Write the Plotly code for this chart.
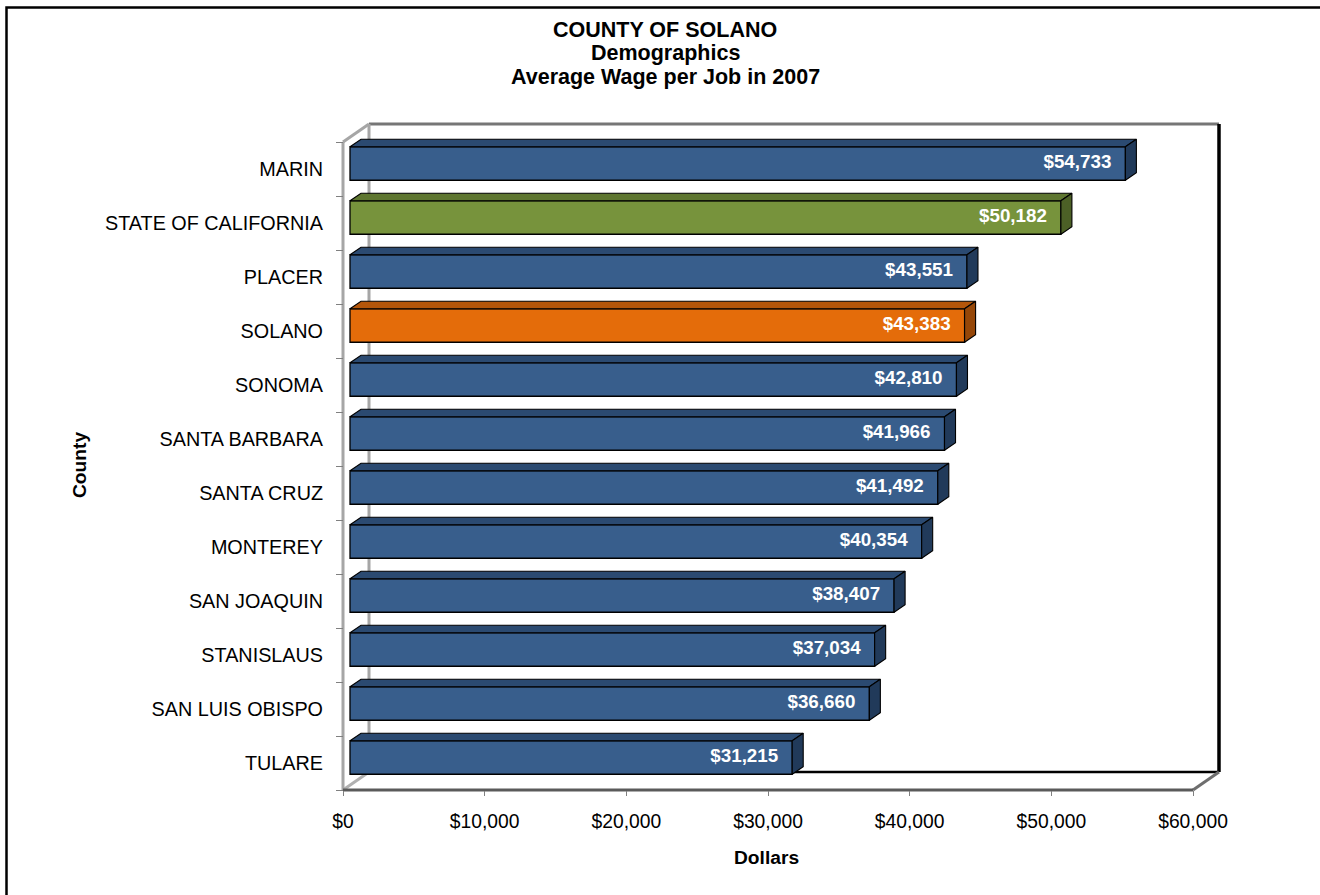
import plotly.graph_objects as go

# ---- data -------------------------------------------------------------
counties = ["MARIN", "STATE OF CALIFORNIA", "PLACER", "SOLANO", "SONOMA",
            "SANTA BARBARA", "SANTA CRUZ", "MONTEREY", "SAN JOAQUIN",
            "STANISLAUS", "SAN LUIS OBISPO", "TULARE"]
wages = [54733, 50182, 43551, 43383, 42810, 41966, 41492, 40354, 38407,
         37034, 36660, 31215]
x_ticks = [0, 10000, 20000, 30000, 40000, 50000, 60000]
x_tick_text = ["$0", "$10,000", "$20,000", "$30,000", "$40,000", "$50,000", "$60,000"]

# colour scheme: (front, top, side)
BLUE = ("#385E8C", "#2B4A71", "#213A5A")
GREEN = ("#77933C", "#5E7630", "#4C6026")
ORANGE = ("#E46C0A", "#B4560A", "#964708")
palette = {"STATE OF CALIFORNIA": GREEN, "SOLANO": ORANGE}

FONT = "Arial, Liberation Sans, sans-serif"

# ---- geometry helpers (figure pixels <-> axis units) ------------------
W, H = 1320, 895
L, R, T, B = 330, 1235, 110, 800          # plotting area in pixels
X0_PX = 343                               # pixel of $0 on the front axis
K = 850 / 60000                           # pixels per dollar
Y0_PX, BAND = 142, 54                     # top of the category axis, band height


def xd(dpx):
    return dpx / K


def yd(dpx):
    return dpx / BAND


x_range = [xd(L - X0_PX), xd(R - X0_PX)]
y_range = [yd(B - Y0_PX), yd(T - Y0_PX)]   # reversed: first category on top

n = len(counties)
xmax = x_ticks[-1]

# depth of the chart box and of the bars
WALL_DX, WALL_DY = xd(26), yd(-18)
BAR_SHIFT_X, BAR_SHIFT_Y = xd(7), yd(-5.5)
BAR_DX, BAR_DY = xd(11), yd(-7.5)
BAR_W = yd(33.5)

fig = go.Figure()

# ---- bars: front faces -----------------------------------------------
centers = [i + 0.5 + BAR_SHIFT_Y for i in range(n)]
front_cols = [palette.get(c, BLUE)[0] for c in counties]
fig.add_trace(go.Bar(
    x=wages, y=centers, base=[BAR_SHIFT_X] * n, orientation="h",
    width=BAR_W, marker=dict(color=front_cols, line=dict(color="#000000", width=1.3)),
    hoverinfo="skip", showlegend=False,
))

# ---- bars: top and side faces ----------------------------------------
for c, v, yc in zip(counties, wages, centers):
    _, top_col, side_col = palette.get(c, BLUE)
    x0 = BAR_SHIFT_X
    x1 = BAR_SHIFT_X + v
    yt = yc - BAR_W / 2
    yb = yc + BAR_W / 2
    fig.add_trace(go.Scatter(
        x=[x0, x1, x1 + BAR_DX, x0 + BAR_DX, x0],
        y=[yt, yt, yt + BAR_DY, yt + BAR_DY, yt],
        fill="toself", fillcolor=top_col, mode="lines",
        line=dict(color="#000000", width=1.1), hoverinfo="skip", showlegend=False,
    ))
    fig.add_trace(go.Scatter(
        x=[x1, x1 + BAR_DX, x1 + BAR_DX, x1, x1],
        y=[yt, yt + BAR_DY, yb + BAR_DY, yb, yt],
        fill="toself", fillcolor=side_col, mode="lines",
        line=dict(color="#000000", width=1.1), hoverinfo="skip", showlegend=False,
    ))

# ---- value labels ----------------------------------------------------
fig.add_trace(go.Scatter(
    x=[BAR_SHIFT_X + v - xd(14) for v in wages], y=centers,
    mode="text", text=[f"${v:,}" for v in wages], textposition="middle left",
    textfont=dict(family=FONT, size=18.8, color="#FFFFFF", weight="bold"),
    hoverinfo="skip", showlegend=False,
))

# ---- chart box (walls and floor) -------------------------------------
def seg(x0, y0, x1, y1, color, width):
    return dict(type="line", xref="x", yref="y", x0=x0, y0=y0, x1=x1, y1=y1,
                line=dict(color=color, width=width), layer="below")


shapes = [
    # back wall
    seg(WALL_DX, WALL_DY, xmax + WALL_DX, WALL_DY, "#767676", 3),
    seg(WALL_DX, WALL_DY, WALL_DX, n + WALL_DY, "#A6A6A6", 3),
    seg(WALL_DX, n + WALL_DY, xmax + WALL_DX, n + WALL_DY, "#000000", 2.5),
    seg(xmax + WALL_DX, WALL_DY, xmax + WALL_DX, n + WALL_DY, "#000000", 3.5),
    # side wall / floor edges
    seg(0, 0, WALL_DX, WALL_DY, "#A6A6A6", 3),
    seg(0, n, WALL_DX, n + WALL_DY, "#B0B0B0", 3),
    seg(xmax, n, xmax + WALL_DX, n + WALL_DY, "#6E6E6E", 3),
    # front axes
    seg(0, 0, 0, n, "#A6A6A6", 3),
    seg(0, n, xmax, n, "#5A5A5A", 3),
    # outer frame
    dict(type="rect", xref="paper", yref="paper",
         x0=(6.5 - L) / (R - L), y0=1 + (T - 7.5) / (B - T),
         x1=(W + 20 - L) / (R - L), y1=-(H + 20 - B) / (B - T),
         line=dict(color="#000000", width=2.5), layer="below"),
]

# ---- titles ----------------------------------------------------------
def ann(text, px_x, px_y, size, angle=0):
    return dict(text=text, xref="paper", yref="paper",
                x=(px_x - L) / (R - L), y=(B - px_y) / (B - T),
                xanchor="center", yanchor="middle", showarrow=False, textangle=angle,
                font=dict(family=FONT, size=size, color="#000000", weight="bold"))


annotations = [
    ann("COUNTY OF SOLANO", 665, 30, 21.5),
    ann("Demographics", 665, 53.5, 21.5),
    ann("Average Wage per Job in 2007", 665, 77, 21.5),
    ann("Dollars", 766, 857, 19.2),
    ann("County", 79, 465, 19.2, -90),
]

fig.update_layout(
    width=W, height=H, margin=dict(l=L, r=W - R, t=T, b=H - B),
    paper_bgcolor="#FFFFFF", plot_bgcolor="rgba(0,0,0,0)",
    showlegend=False, barmode="overlay",
    shapes=shapes, annotations=annotations,
    xaxis=dict(
        range=x_range, anchor="free", position=(B - (Y0_PX + n * BAND)) / (B - T),
        tickmode="array", tickvals=x_ticks, ticktext=x_tick_text,
        ticks="outside", ticklen=5, tickwidth=1, tickcolor="#808080",
        ticklabelstandoff=9,
        tickfont=dict(family=FONT, size=19.3, color="#000000"),
        showgrid=False, zeroline=False, showline=False,
    ),
    yaxis=dict(
        range=y_range, anchor="free", position=(X0_PX - L) / (R - L),
        tickmode="array", tickvals=[i + 0.5 for i in range(n)], ticktext=counties,
        ticks="", ticklabelstandoff=20,
        minor=dict(tickmode="array", tickvals=list(range(n + 1)), ticks="outside",
                   ticklen=7, tickwidth=1, tickcolor="#808080"),
        tickfont=dict(family=FONT, size=19.8, color="#000000"),
        showgrid=False, zeroline=False, showline=False,
    ),
)

fig.write_html("out.html")
